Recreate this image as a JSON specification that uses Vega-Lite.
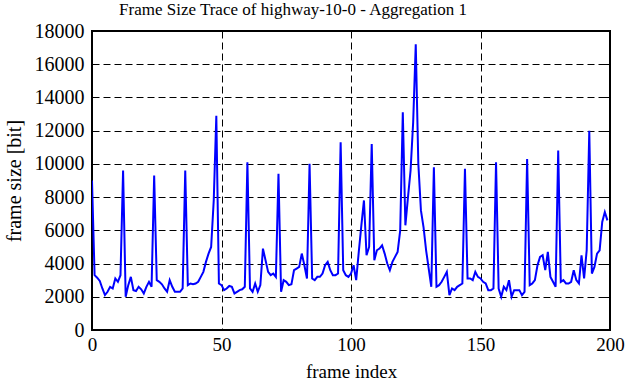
{
  "$schema": "https://vega.github.io/schema/vega-lite/v6.json",
  "width": 518,
  "height": 299,
  "autosize": "none",
  "padding": {"left": 92, "top": 31, "right": 16, "bottom": 52},
  "background": "white",
  "title": {"text": "Frame Size Trace of highway-10-0 - Aggregation 1", "font": "Liberation Serif", "fontSize": 17, "fontWeight": "normal", "color": "black", "anchor": "middle", "dx": -58, "offset": 2},
  "config": {
    "view": {"stroke": "black", "strokeWidth": 2},
    "axis": {"labelFont": "Liberation Serif", "titleFont": "Liberation Serif", "labelColor": "black", "titleColor": "black", "titleFontWeight": "normal", "domain": false}
  },
  "data": {"values": [
    {"frame":0,"size":9000},{"frame":1,"size":3300},{"frame":2,"size":3150},{"frame":3,"size":2950},{"frame":4,"size":2500},{"frame":5,"size":2100},{"frame":6,"size":2300},{"frame":7,"size":2600},{"frame":8,"size":2500},{"frame":9,"size":3100},
    {"frame":10,"size":2900},{"frame":11,"size":3300},{"frame":12,"size":9600},{"frame":13,"size":2000},{"frame":14,"size":2700},{"frame":15,"size":3200},{"frame":16,"size":2400},{"frame":17,"size":2350},{"frame":18,"size":2600},{"frame":19,"size":2450},
    {"frame":20,"size":2200},{"frame":21,"size":2600},{"frame":22,"size":2900},{"frame":23,"size":2600},{"frame":24,"size":9300},{"frame":25,"size":3000},{"frame":26,"size":2900},{"frame":27,"size":2750},{"frame":28,"size":2500},{"frame":29,"size":2300},
    {"frame":30,"size":3000},{"frame":31,"size":2600},{"frame":32,"size":2300},{"frame":33,"size":2300},{"frame":34,"size":2300},{"frame":35,"size":2500},{"frame":36,"size":9600},{"frame":37,"size":2700},{"frame":38,"size":2800},{"frame":39,"size":2750},
    {"frame":40,"size":2800},{"frame":41,"size":2900},{"frame":42,"size":3200},{"frame":43,"size":3500},{"frame":44,"size":4100},{"frame":45,"size":4600},{"frame":46,"size":5000},{"frame":47,"size":7800},{"frame":48,"size":12900},{"frame":49,"size":2800},
    {"frame":50,"size":2700},{"frame":51,"size":2400},{"frame":52,"size":2500},{"frame":53,"size":2650},{"frame":54,"size":2600},{"frame":55,"size":2200},{"frame":56,"size":2300},{"frame":57,"size":2400},{"frame":58,"size":2450},{"frame":59,"size":2600},
    {"frame":60,"size":10100},{"frame":61,"size":2500},{"frame":62,"size":2300},{"frame":63,"size":2800},{"frame":64,"size":2300},{"frame":65,"size":2700},{"frame":66,"size":4900},{"frame":67,"size":4200},{"frame":68,"size":3500},{"frame":69,"size":3300},
    {"frame":70,"size":3400},{"frame":71,"size":3200},{"frame":72,"size":9400},{"frame":73,"size":2300},{"frame":74,"size":3000},{"frame":75,"size":2900},{"frame":76,"size":2700},{"frame":77,"size":2750},{"frame":78,"size":3600},{"frame":79,"size":3700},
    {"frame":80,"size":3800},{"frame":81,"size":4600},{"frame":82,"size":3900},{"frame":83,"size":3100},{"frame":84,"size":10000},{"frame":85,"size":3100},{"frame":86,"size":3000},{"frame":87,"size":3200},{"frame":88,"size":3200},{"frame":89,"size":3400},
    {"frame":90,"size":3900},{"frame":91,"size":4100},{"frame":92,"size":3600},{"frame":93,"size":3300},{"frame":94,"size":3300},{"frame":95,"size":3400},{"frame":96,"size":11300},{"frame":97,"size":3600},{"frame":98,"size":3300},{"frame":99,"size":3200},
    {"frame":100,"size":3400},{"frame":101,"size":3900},{"frame":102,"size":3000},{"frame":103,"size":4700},{"frame":104,"size":6300},{"frame":105,"size":7800},{"frame":106,"size":4500},{"frame":107,"size":5000},{"frame":108,"size":11200},{"frame":109,"size":4200},
    {"frame":110,"size":4800},{"frame":111,"size":4900},{"frame":112,"size":5100},{"frame":113,"size":4600},{"frame":114,"size":4000},{"frame":115,"size":3600},{"frame":116,"size":4100},{"frame":117,"size":4400},{"frame":118,"size":4700},{"frame":119,"size":6000},
    {"frame":120,"size":13100},{"frame":121,"size":6300},{"frame":122,"size":8000},{"frame":123,"size":9600},{"frame":124,"size":12500},{"frame":125,"size":17200},{"frame":126,"size":10000},{"frame":127,"size":7200},{"frame":128,"size":6200},{"frame":129,"size":4800},
    {"frame":130,"size":3700},{"frame":131,"size":2600},{"frame":132,"size":9800},{"frame":133,"size":2600},{"frame":134,"size":2700},{"frame":135,"size":2900},{"frame":136,"size":3200},{"frame":137,"size":3500},{"frame":138,"size":2100},{"frame":139,"size":2500},
    {"frame":140,"size":2400},{"frame":141,"size":2600},{"frame":142,"size":2700},{"frame":143,"size":2800},{"frame":144,"size":9700},{"frame":145,"size":3100},{"frame":146,"size":3100},{"frame":147,"size":3000},{"frame":148,"size":3500},{"frame":149,"size":3200},
    {"frame":150,"size":3100},{"frame":151,"size":2900},{"frame":152,"size":2800},{"frame":153,"size":2400},{"frame":154,"size":2400},{"frame":155,"size":2500},{"frame":156,"size":10100},{"frame":157,"size":2500},{"frame":158,"size":2000},{"frame":159,"size":2600},
    {"frame":160,"size":2400},{"frame":161,"size":3000},{"frame":162,"size":2000},{"frame":163,"size":2400},{"frame":164,"size":2400},{"frame":165,"size":2400},{"frame":166,"size":2100},{"frame":167,"size":2300},{"frame":168,"size":10300},{"frame":169,"size":2700},
    {"frame":170,"size":2800},{"frame":171,"size":3000},{"frame":172,"size":3900},{"frame":173,"size":4400},{"frame":174,"size":4500},{"frame":175,"size":3600},{"frame":176,"size":4700},{"frame":177,"size":3200},{"frame":178,"size":2900},{"frame":179,"size":2600},
    {"frame":180,"size":10800},{"frame":181,"size":2900},{"frame":182,"size":3000},{"frame":183,"size":2800},{"frame":184,"size":2800},{"frame":185,"size":2900},{"frame":186,"size":3600},{"frame":187,"size":3000},{"frame":188,"size":2800},{"frame":189,"size":4500},
    {"frame":190,"size":3100},{"frame":191,"size":4800},{"frame":192,"size":12000},{"frame":193,"size":3400},{"frame":194,"size":3800},{"frame":195,"size":4600},{"frame":196,"size":4800},{"frame":197,"size":6500},{"frame":198,"size":7100},{"frame":199,"size":6600}
  ]},
  "layer": [
    {
      "mark": {"type": "line", "color": "#0000ff", "strokeWidth": 2, "clip": true},
      "encoding": {
        "x": {"field": "frame", "type": "quantitative", "scale": {"domain": [0, 200], "nice": false, "zero": false},
          "axis": {"title": "frame index", "values": [0, 50, 100, 150, 200], "format": "d", "labelFont": "Liberation Serif", "labelFontSize": 19, "titleFontSize": 19, "ticks": false, "labelPadding": 5, "titlePadding": 8,
            "grid": true, "gridColor": "black", "gridDash": [7, 4], "gridWidth": 1, "gridOpacity": 1, "labelFlush": false}},
        "y": {"field": "size", "type": "quantitative", "scale": {"domain": [0, 18000], "nice": false},
          "axis": {"title": "frame size [bit]", "values": [0, 2000, 4000, 6000, 8000, 10000, 12000, 14000, 16000, 18000], "format": "d", "labelFont": "Liberation Serif", "labelFontSize": 20, "titleFontSize": 20, "ticks": false, "labelPadding": 8, "titlePadding": 10,
            "grid": true, "gridColor": "black", "gridDash": [7, 4], "gridWidth": 1, "gridOpacity": 1, "labelFlush": false}}
      }
    },
    {
      "mark": {"type": "line", "opacity": 0},
      "encoding": {
        "x": {"field": "frame", "type": "quantitative"},
        "y": {"field": "size", "type": "quantitative",
          "axis": {"orient": "right", "offset": -8, "title": null, "labels": false, "grid": false, "ticks": true, "tickSize": 8, "tickColor": "black", "tickWidth": 1, "values": [2000, 4000, 6000, 8000, 10000, 12000, 14000, 16000]}}
      }
    }
  ],
  "resolve": {"axis": {"y": "independent"}}
}
